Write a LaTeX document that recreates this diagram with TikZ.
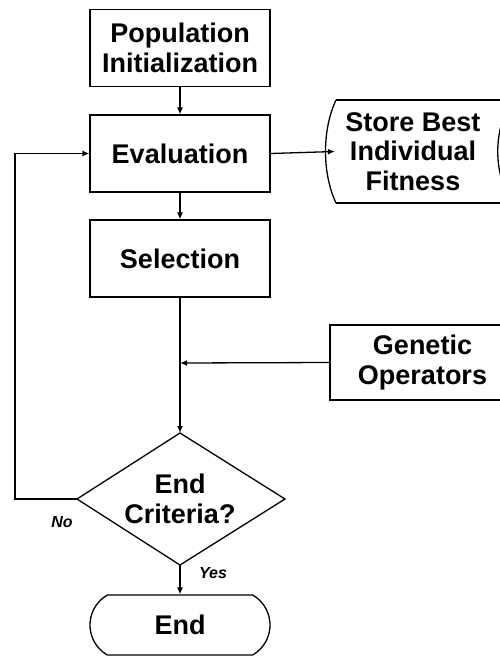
\documentclass[tikz,border=0pt]{standalone}
\usepackage{fontspec}
\setmainfont{Liberation Sans}
\usetikzlibrary{arrows.meta,shapes.misc}
\begin{document}
\begin{tikzpicture}[x=1pt,y=-1pt,
  line width=1.3pt,
  txt/.style={font=\fontsize{27}{29.5}\selectfont\bfseries, align=center, inner sep=0pt},
  box/.style={txt, draw, minimum width=180pt, minimum height=77pt},
  arr/.style={-{Latex[length=7pt,width=6pt]}},
  lab/.style={font=\fontsize{16}{18}\selectfont\bfseries\itshape, inner sep=0pt}]
\clip (0,0) rectangle (500,657);
\fill[white] (0,0) rectangle (500,657);
% nodes
\node[box] (pop) at (180,48) {Population\\Initialization};
\node[box] (eval) at (180,153.5) {Evaluation};
\node[box] (sel) at (180,258.5) {Selection};
\node[box, minimum width=185pt, minimum height=75pt] (gen) at (422.5,362.5) {Genetic\\Operators};
% stored data shape
\draw (336,100) -- (520,100) (336,203) -- (520,203);
\draw (336,100) .. controls (322,130) and (322,173) .. (336,203);
\draw (512,100) .. controls (493,130) and (493,173) .. (512,203);
\node[txt, minimum width=155pt, minimum height=103pt] (store) at (413,151.5) {Store Best\\Individual\\Fitness};
% decision diamond
\coordinate (dtop) at (180,433);
\coordinate (dleft) at (77,499);
\coordinate (dbot) at (180,565);
\coordinate (dright) at (285,499);
\draw (dtop) -- (dright) -- (dbot) -- (dleft) -- cycle;
\node[txt] (dec) at (180,499) {End\\Criteria?};
% end terminal
\node[txt, draw, rounded rectangle, rounded rectangle arc length=120, minimum width=180pt, minimum height=60pt] (end) at (180,625) {End};
% connectors
\coordinate (join) at (180,363);
\draw[arr] (pop) -- (eval);
\draw[arr] (eval) -- (sel);
\draw[arr] (eval.east) -- (store.west);
\draw[arr] (sel.south) -- (dtop);
\draw[arr] (gen.west) -- (join);
\draw[arr] (dbot) -- (end.north);
\coordinate (lc) at (15,499);
\draw[arr] (dleft) -- (lc) |- (eval.west);
% labels
\node[lab] (no) at (62,522) {No};
\node[lab] (yes) at (213,573) {Yes};
\end{tikzpicture}
\end{document}
